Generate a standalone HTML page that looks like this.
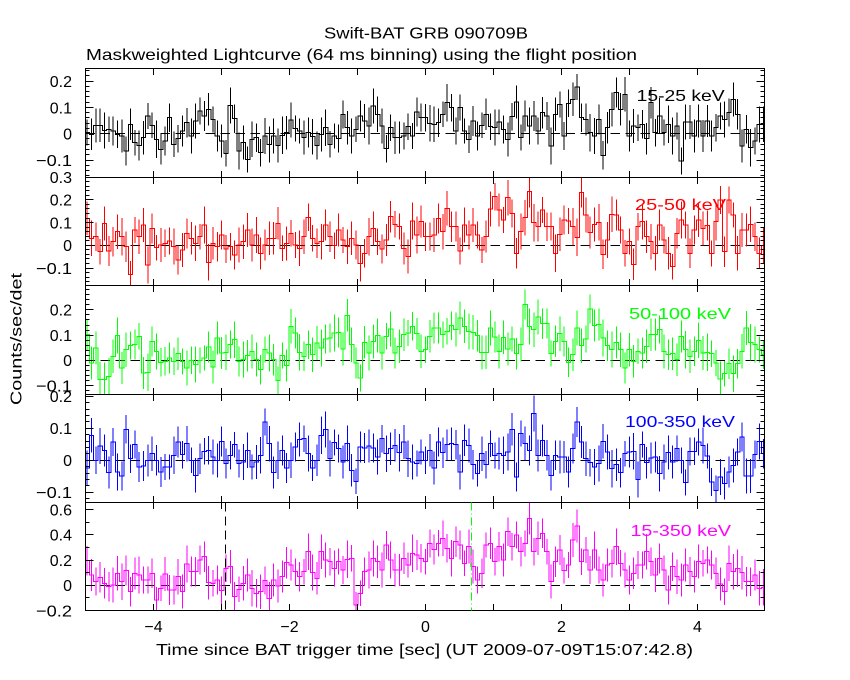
<!DOCTYPE html>
<html>
<head>
<meta charset="utf-8">
<style>
html,body{margin:0;padding:0;background:#fff;}
svg{display:block;}
text{font-family:"Liberation Sans",sans-serif;font-size:16px;fill:#000;}
</style>
</head>
<body>
<svg id="s" width="850" height="680" viewBox="0 0 850 680" xmlns="http://www.w3.org/2000/svg">
<rect x="0" y="0" width="850" height="680" fill="#fff"/>
<defs id="defs"></defs>
<g id="plot"></g>
<!-- titles -->
<text x="426" y="38.5" text-anchor="middle" textLength="204" lengthAdjust="spacingAndGlyphs">Swift-BAT GRB 090709B</text>
<text x="86" y="60" textLength="551" lengthAdjust="spacingAndGlyphs">Maskweighted Lightcurve (64 ms binning) using the flight position</text>
<!-- y label -->
<text x="0" y="0" text-anchor="middle" transform="translate(21.5,339) rotate(-90)" textLength="132" lengthAdjust="spacingAndGlyphs">Counts/sec/det</text>
<!-- x label -->
<text x="156" y="655" textLength="537" lengthAdjust="spacingAndGlyphs">Time since BAT trigger time [sec] (UT 2009-07-09T15:07:42.8)</text>
<!-- x tick labels -->
<text x="153.5" y="632" text-anchor="middle">−4</text>
<text x="289.5" y="632" text-anchor="middle">−2</text>
<text x="425.5" y="632" text-anchor="middle">0</text>
<text x="561.5" y="632" text-anchor="middle">2</text>
<text x="697.5" y="632" text-anchor="middle">4</text>
<!-- panel 1 y labels -->
<text x="72" y="87.2" text-anchor="end">0.2</text>
<text x="72" y="113.5" text-anchor="end">0.1</text>
<text x="72" y="139.6" text-anchor="end">0</text>
<text x="72" y="166" text-anchor="end" textLength="36" lengthAdjust="spacingAndGlyphs">−0.1</text>
<!-- panel 2 -->
<text x="72" y="183" text-anchor="end">0.3</text>
<text x="72" y="205.7" text-anchor="end">0.2</text>
<text x="72" y="228.4" text-anchor="end">0.1</text>
<text x="72" y="251" text-anchor="end">0</text>
<text x="72" y="273.8" text-anchor="end" textLength="36" lengthAdjust="spacingAndGlyphs">−0.1</text>
<!-- panel 3 -->
<text x="72" y="315.7" text-anchor="end">0.2</text>
<text x="72" y="340.9" text-anchor="end">0.1</text>
<text x="72" y="366" text-anchor="end">0</text>
<text x="72" y="391.3" text-anchor="end" textLength="36" lengthAdjust="spacingAndGlyphs">−0.1</text>
<!-- panel 4 -->
<text x="72" y="402" text-anchor="end">0.2</text>
<text x="72" y="434.1" text-anchor="end">0.1</text>
<text x="72" y="466" text-anchor="end">0</text>
<text x="72" y="498.1" text-anchor="end" textLength="36" lengthAdjust="spacingAndGlyphs">−0.1</text>
<!-- panel 5 -->
<text x="72" y="515.5" text-anchor="end">0.6</text>
<text x="72" y="540.7" text-anchor="end">0.4</text>
<text x="72" y="565.9" text-anchor="end">0.2</text>
<text x="72" y="591" text-anchor="end">0</text>
<text x="72" y="616.3" text-anchor="end" textLength="36" lengthAdjust="spacingAndGlyphs">−0.2</text>
<!-- energy labels -->
<text x="636.6" y="101" textLength="88" lengthAdjust="spacingAndGlyphs" style="fill:#000">15-25 keV</text>
<text x="635" y="210" textLength="91" lengthAdjust="spacingAndGlyphs" style="fill:#ff0000">25-50 keV</text>
<text x="629" y="319" textLength="102" lengthAdjust="spacingAndGlyphs" style="fill:#00ff00">50-100 keV</text>
<text x="625" y="427" textLength="110" lengthAdjust="spacingAndGlyphs" style="fill:#0000ff">100-350 keV</text>
<text x="630.5" y="536" textLength="100.5" lengthAdjust="spacingAndGlyphs" style="fill:#ff00ff">15-350 keV</text>
</svg>
<script>
(function(){
const NS='http://www.w3.org/2000/svg';
function el(tag,attrs,parent){const e=document.createElementNS(NS,tag);for(const k in attrs)e.setAttribute(k,attrs[k]);parent.appendChild(e);return e;}
const plot=document.getElementById('plot');
const defs=document.getElementById('defs');
const L=85.5,R=764.5;
const tops=[68.5,177.5,285.5,394.5,502.5,610.5];
const P=[
{y0:66,zero:133.7,s:263,col:'#000000',minor:0.02,nmaj:5,zl:133.5,d:[
200,205,178,178,193,190,195,205,210,255,175,230,238,215,150,178,220,250,225,155,
235,218,195,170,210,165,135,150,130,160,210,225,262,118,158,255,230,280,220,215,
260,210,235,210,238,208,200,162,188,195,215,200,212,238,205,185,235,210,218,145,
185,210,190,150,165,180,120,145,180,248,185,215,215,210,182,210,138,155,155,172,
175,170,145,110,125,195,125,195,220,165,210,178,145,182,185,168,190,220,152,108,
215,150,180,150,195,140,150,240,145,115,210,112,100,63,155,160,200,210,160,268,
185,130,80,130,85,210,180,185,175,218,110,200,150,200,175,210,180,285,168,168,
210,165,210,165,210,185,150,160,140,100,145,240,190,245,225,175,175]},
{y0:175,zero:245.3,s:227,col:'#ff0000',minor:0.02,nmaj:5,zl:245.5,d:[
130,190,185,230,145,228,200,170,185,215,298,165,185,150,270,160,218,210,205,198,
215,255,225,175,190,205,185,150,262,205,215,180,222,215,240,210,200,165,210,180,
235,210,190,190,145,220,205,175,210,220,185,127,190,205,200,150,185,212,165,195,
215,190,210,265,235,185,160,200,222,195,125,148,155,220,245,138,180,140,185,185,
180,130,170,100,155,155,228,150,180,150,180,225,185,102,65,105,135,68,115,235,
170,128,50,143,155,105,155,155,235,178,135,138,155,187,52,120,172,148,142,238,
195,118,120,165,235,200,268,155,140,185,200,235,150,195,235,275,175,135,150,235,
165,135,160,152,235,140,75,230,75,120,235,165,165,148,185,235,212]},
{y0:283,zero:360.3,s:252,col:'#00ff00',minor:0.02,nmaj:5,zl:360.5,d:[
155,240,195,290,290,280,220,158,255,200,188,185,160,270,268,175,205,238,235,225,
235,212,235,255,232,245,232,225,192,252,165,210,208,185,170,235,230,218,205,230,
260,200,210,230,292,218,248,130,150,208,220,185,215,180,195,168,165,150,148,198,
97,185,240,285,178,210,175,158,210,160,138,210,190,155,150,130,152,205,200,160,
135,135,155,145,128,140,105,130,145,148,158,208,208,135,162,205,163,198,168,212,
185,65,130,140,102,122,122,212,175,152,175,238,215,135,188,168,78,128,125,165,
188,200,178,200,255,200,235,205,210,190,155,155,140,205,215,212,230,160,200,220,
205,172,210,208,212,240,288,272,242,272,242,205,135,178,185,200,215]},
{y0:392,zero:460.3,s:320,col:'#0000ff',minor:0.02,nmaj:5,zl:460.5,d:[
228,130,205,162,175,242,150,240,252,112,200,158,225,222,205,185,205,240,225,225,
190,150,188,155,205,250,200,178,175,195,205,148,215,190,158,215,210,175,225,210,
190,90,155,242,205,175,228,205,165,142,140,185,228,205,130,112,200,152,170,210,
155,235,268,165,168,162,168,195,140,185,170,160,182,150,200,210,215,180,205,175,
228,150,182,158,155,158,240,145,160,218,245,185,218,155,190,185,190,180,112,255,
125,155,175,65,190,145,190,250,190,195,195,240,170,90,150,200,212,225,215,148,
180,230,218,242,185,180,178,262,158,212,198,195,245,210,182,210,170,205,272,178,
178,150,160,192,270,295,255,275,240,220,180,135,252,252,188,148,185]},
{y0:500,zero:585.3,s:126,col:'#ff00ff',minor:0.1,nmaj:2,zl:585.5,d:[
182,225,245,232,250,260,255,220,245,212,275,220,225,240,240,220,300,265,222,270,
270,230,275,192,215,215,180,170,248,250,240,272,205,200,290,268,250,225,265,280,
275,242,296,240,258,230,188,195,215,230,215,155,218,235,155,180,185,205,185,210,
178,175,315,280,215,210,175,185,210,135,180,210,210,175,195,160,165,175,185,130,
148,130,115,145,175,125,135,190,140,200,240,220,135,130,185,140,180,95,140,105,
155,130,55,155,115,100,155,245,185,150,212,195,120,78,185,150,210,150,210,240,
195,190,140,190,210,240,220,195,195,155,185,225,175,210,270,200,230,240,195,215,
230,185,190,180,195,220,252,275,190,215,205,218,245,245,225,265,262]}
];
const BW=4.3367;
P.forEach((p,pi)=>{
  const top=tops[pi],bot=tops[pi+1];
  const cp=el('clipPath',{id:'c'+pi},defs);
  el('rect',{x:L,y:top,width:R-L,height:bot-top},cp);
  const g=el('g',{'clip-path':'url(#c'+pi+')'},plot);
  // zero line
  el('line',{x1:L,y1:p.zl,x2:R,y2:p.zl,stroke:'#000','stroke-width':1,'stroke-dasharray':'9.5 5.5','shape-rendering':'crispEdges'},g);
  // steps + error bars
  let ds='',de='';
  p.d.forEach((v,i)=>{
    const x0=85+i*BW,x1=x0+BW,xc=x0+BW/2;
    const y=p.y0+v/3;
    if(i===0) ds+='M'+x0.toFixed(2)+' '+y.toFixed(2); else ds+='V'+y.toFixed(2);
    ds+='H'+x1.toFixed(2);
    const e=(38+((i*37+pi*11+(v%7)*5)%19))/3;
    de+='M'+xc.toFixed(2)+' '+(y-e).toFixed(2)+'V'+(y+e).toFixed(2);
  });
  el('path',{d:ds,fill:'none',stroke:p.col,'stroke-width':1,'shape-rendering':'crispEdges'},g);
  el('path',{d:de,fill:'none',stroke:p.col,'stroke-width':1,'shape-rendering':'crispEdges'},g);
  // frame
  el('rect',{x:L,y:top,width:R-L,height:bot-top,fill:'none',stroke:'#000','stroke-width':1,'shape-rendering':'crispEdges'},plot);
  // y ticks
  const vmax=(p.zero-top)/p.s, vmin=-(bot-p.zero)/p.s;
  let tk='';
  for(let k=Math.ceil(vmin/p.minor-1e-6);k<=Math.floor(vmax/p.minor+1e-6);k++){
    const y=p.zero-k*p.minor*p.s;
    if(y<top-0.3||y>bot+0.3)continue;
    const len=(k%p.nmaj===0)?8:4;
    const yy=Math.round(y-0.5)+0.5;
    tk+='M'+L+' '+yy+'H'+(L+len)+'M'+R+' '+yy+'H'+(R-len);
  }
  for(let t=-4;t<=4;t++){
    const X=Math.round(425+68*t)+0.5;
    tk+='M'+X+' '+top+'V'+(top+6.5)+'M'+X+' '+bot+'V'+(bot-6.5);
  }
  el('path',{d:tk,fill:'none',stroke:'#000','stroke-width':1,'shape-rendering':'crispEdges'},plot);
});
// vertical lines in bottom panel
el('line',{x1:225.5,y1:502.5,x2:225.5,y2:610.5,stroke:'#000','stroke-width':1,'stroke-dasharray':'9 5','shape-rendering':'crispEdges'},plot);
el('line',{x1:471.5,y1:502.5,x2:471.5,y2:610.5,stroke:'#00ff00','stroke-width':1,'stroke-dasharray':'8 3 1 3','shape-rendering':'crispEdges'},plot);
})();
</script>
</body>
</html>
